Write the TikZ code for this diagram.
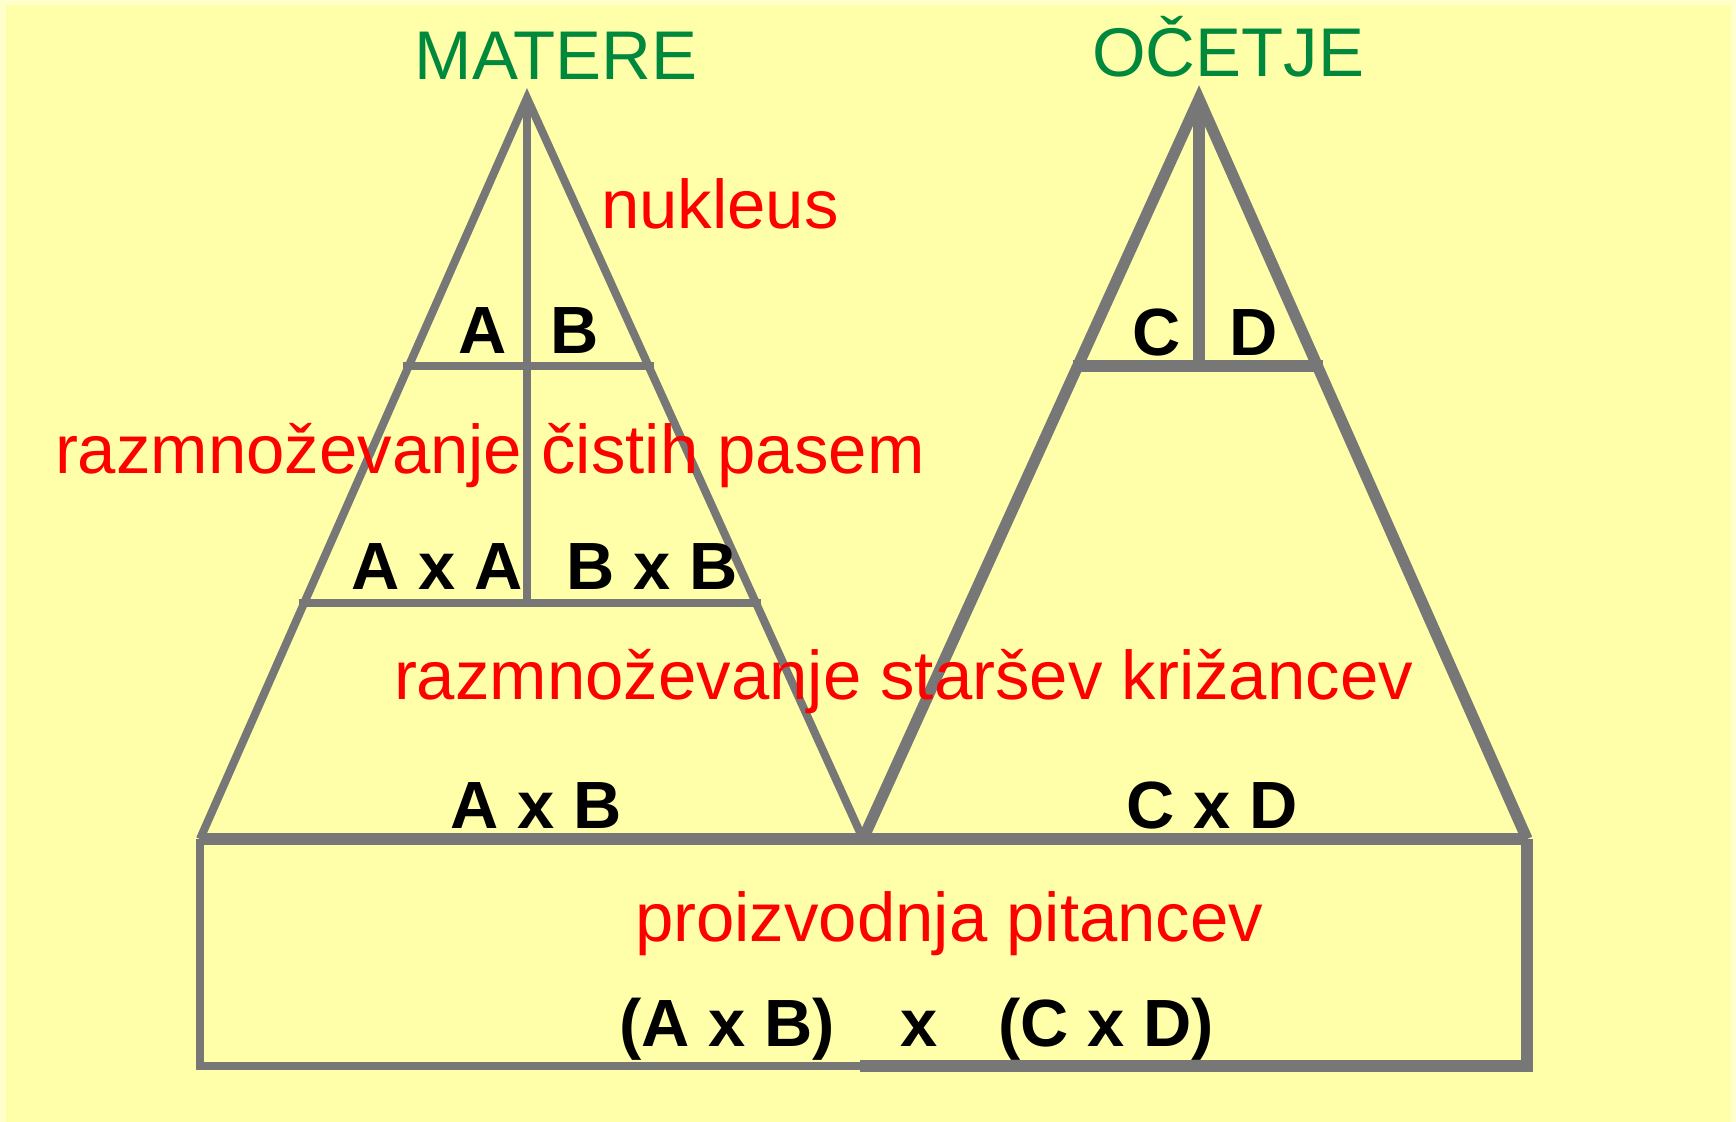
\documentclass[tikz,border=0pt]{standalone}
\usepackage{fontspec}
\setmainfont{Liberation Sans}
\usetikzlibrary{calc}
\definecolor{bgyellow}{HTML}{FFFFAA}
\definecolor{bgedge}{HTML}{FFFFCC}
\definecolor{linegray}{HTML}{777777}
\definecolor{titlegreen}{HTML}{00883C}
\definecolor{stagered}{HTML}{FF0000}

\begin{document}
\begin{tikzpicture}[x=0.01cm, y=-0.01cm, every node/.style={inner sep=0pt, outer sep=0pt}, titlelbl/.style={font=\fontsize{19.6}{22}\selectfont, text=titlegreen, anchor=base}, stagelbl/.style={font=\fontsize{19.6}{22}\selectfont, text=stagered, anchor=base west}, breedlbl/.style={font=\fontsize{19}{22}\selectfont\bfseries, anchor=base}, thinln/.style={draw=linegray, line width=2.3pt}, thickln/.style={draw=linegray, line width=3.2pt}, crossbar/.style={shorten <=-1.5pt, shorten >=-1.5pt}]
% background
\fill[bgedge] (0,0) rectangle (1736,1122);
\fill[bgyellow] (6,5) rectangle (1731,1122);
\useasboundingbox (0,0) rectangle (1736,1122);
% corner points
\coordinate (mApex) at (527,98);
\coordinate (mLeft) at (200,839);
\coordinate (vMid) at (863,839);
\coordinate (oApex) at (1199,99);
\coordinate (oRight) at (1527,839);
\coordinate (boxBL) at (200,1066);
\coordinate (boxBM) at (860,1066);
\coordinate (boxBR) at (1527,1066);
% levels on the slants
\coordinate (mL1) at ($(mApex)!0.3621!(mLeft)$);
\coordinate (mR1) at ($(mApex)!0.3621!(vMid)$);
\coordinate (mL2) at ($(mApex)!0.6815!(mLeft)$);
\coordinate (mR2) at ($(mApex)!0.6815!(vMid)$);
\coordinate (mC2) at ($(mL2)!0.5!(mR2)$);
\coordinate (oL1) at ($(oApex)!0.3608!(vMid)$);
\coordinate (oR1) at ($(oApex)!0.3608!(oRight)$);
\coordinate (oC1) at ($(oL1)!0.5!(oR1)$);
% mothers pyramid
\draw[thinln] (mLeft) -- (mApex) -- (vMid);
\draw[thinln] (mApex) -- (mApex |- mC2);
\draw[thinln, crossbar] (mL1) -- (mR1);
\draw[thinln, crossbar] (mL2) -- (mR2);
% fathers pyramid
\draw[thickln] (vMid) -- (oApex) -- (oRight);
\draw[thickln] (oApex) -- (oApex |- oC1);
\draw[thickln, crossbar] (oL1) -- (oR1);
% base and box
\draw[thickln] (mLeft) -- (oRight);
\draw[thinln] (mLeft) -- (boxBL) -- (boxBM);
\draw[thickln] (boxBM) -- (boxBR) -- (oRight);
% titles
\node[titlelbl] (tMater) at (556,80) {MATERE};
\node[titlelbl] (tOcet) at (1228,77) {OČETJE};
% stages
\node[stagelbl] (sNukl) at (601,229) {nukleus};
\node[stagelbl] (sCist) at (55,474) {razmnoževanje čistih pasem};
\node[stagelbl] (sStar) at (394,700) {razmnoževanje staršev križancev};
\node[stagelbl] (sPit) at (635,941) {proizvodnja pitancev};
% breeds
\node[breedlbl] (bA) at (483,354) {A};
\node[breedlbl] (bB) at (575,354) {B};
\node[breedlbl] (bC) at (1157,356) {C};
\node[breedlbl] (bD) at (1254,356) {D};
\node[breedlbl] (bAA) at (437,590) {A x A};
\node[breedlbl] (bBB) at (652,590) {B x B};
\node[breedlbl] (bAB) at (536,828) {A x B};
\node[breedlbl] (bCD) at (1212,828) {C x D};
\node[breedlbl] (fAB) at (727,1046) {(A x B)};
\node[breedlbl] (fX) at (919,1046) {x};
\node[breedlbl] (fCD) at (1106,1046) {(C x D)};
\end{tikzpicture}
\end{document}
